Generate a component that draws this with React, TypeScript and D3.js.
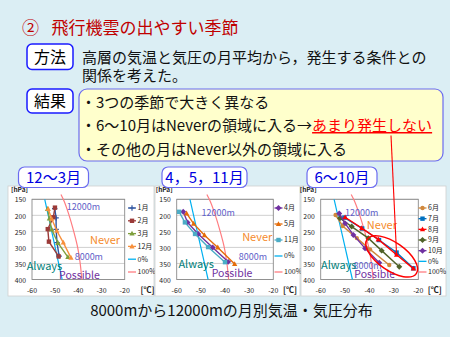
import React from "react";
import * as d3 from "d3";

const FONT = "'Noto Sans CJK JP', 'Noto Sans', sans-serif";

// ---- data ----
const pressureTicks = [150, 200, 250, 300, 350, 400];
const temperatureTicks = [-60, -50, -40, -30, -20];

// [temperature °C, pressure hPa]
type Pt = [number, number];
const jan: Pt[] = [[-50.2, 179], [-49.6, 208], [-49.6, 244], [-49.2, 285], [-48.3, 327]];
const feb: Pt[] = [[-50.1, 176], [-50.8, 206], [-53.2, 243], [-52.7, 282], [-48.5, 328]];
const mar: Pt[] = [[-53.3, 180], [-52.5, 210], [-51.5, 244], [-48.8, 286], [-44.5, 330]];
const dec: Pt[] = [[-53.0, 180], [-51.5, 211], [-49.3, 248], [-46.5, 285], [-43.2, 332]];
const apr: Pt[] = [[-57.3, 189], [-55.5, 222], [-51.1, 258], [-45.1, 300], [-38.7, 345]];
const may: Pt[] = [[-55.9, 194], [-53.0, 226], [-48.5, 262], [-43.0, 300], [-36.0, 352]];
const nov: Pt[] = [[-59.0, 189], [-56.6, 222], [-52.4, 258], [-47.0, 299], [-40.0, 346]];
const jun: Pt[] = [[-53.9, 199], [-51.0, 233], [-45.2, 271], [-39.8, 306], [-31.9, 355]];
const jul: Pt[] = [[-50.3, 207], [-43.0, 241], [-36.1, 277], [-28.9, 316], [-22.0, 365]];
const aug: Pt[] = [[-50.0, 206], [-43.2, 240], [-36.4, 275], [-28.9, 323], [-22.0, 366]];
const sep: Pt[] = [[-52.1, 209], [-47.3, 235], [-40.5, 271], [-35.0, 310], [-27.8, 360]];
const oct: Pt[] = [[-52.4, 194], [-50.0, 225], [-46.6, 261], [-41.8, 303], [-36.0, 348]];
const zeroPct: Pt[] = [[-54.5, 150], [-53, 200], [-51.5, 250], [-50, 300], [-48.5, 350], [-47, 400]];
const hundredPct: Pt[] = [[-47.5, 135], [-46.5, 150], [-44, 200], [-42, 250], [-40.3, 300], [-39.2, 350], [-38.5, 400]];

const chartTitles = ["12〜3月", "4，5，11月", "6〜10月"];

// ---- styles / layout ----
type Series = { name: string; data: Pt[]; color: string; marker: string | null };
type Label = { text: string; t: number; p: number; color: string; size: number };

const C_ZERO = "#00b0f0";
const C_HUND = "#ff7c80";
const C_ALT = "#6060c8";
const C_NEVER = "#f58a2a";
const C_ALWAYS = "#00807a";
const C_POSS = "#7030a0";

const refSeries = (): Series[] => [
  { name: "0%", data: zeroPct, color: C_ZERO, marker: null },
  { name: "100%", data: hundredPct, color: C_HUND, marker: null },
];

const charts = [
  {
    title: chartTitles[0],
    titleBox: { x: 18.5, w: 70 },
    panel: { x: 8, w: 146 },
    left: 32, right: 124.7,
    legendX: 128, celsiusX: 140.5,
    series: [
      { name: "1月", data: jan, color: "#2f55a0", marker: "plus" },
      { name: "2月", data: feb, color: "#9b3a38", marker: "square" },
      { name: "3月", data: mar, color: "#7f9f3c", marker: "triangle" },
      { name: "12月", data: dec, color: "#f7903c", marker: "triangle" },
    ] as Series[],
    labels: [
      { text: "12000m", t: -45, p: 173, color: C_ALT, size: 9 },
      { text: "Never", t: -35, p: 277, color: C_NEVER, size: 11 },
      { text: "8000m", t: -41.6, p: 328, color: C_ALT, size: 9 },
      { text: "Always", t: -62.3, p: 359, color: C_ALWAYS, size: 11 },
      { text: "Possible", t: -48.3, p: 386, color: C_POSS, size: 10.5 },
    ] as Label[],
  },
  {
    title: chartTitles[1],
    titleBox: { x: 162, w: 85 },
    panel: { x: 155, w: 145 },
    left: 176.7, right: 273.3,
    legendX: 274.5, celsiusX: 283,
    series: [
      { name: "4月", data: apr, color: "#7030a0", marker: "diamond" },
      { name: "5月", data: may, color: "#e46c0a", marker: "triangle" },
      { name: "11月", data: nov, color: "#4bacc6", marker: "square" },
    ] as Series[],
    labels: [
      { text: "12000m", t: -49.7, p: 193.6, color: C_ALT, size: 9 },
      { text: "Never", t: -32.9, p: 268, color: C_NEVER, size: 11 },
      { text: "8000m", t: -34.3, p: 328.6, color: C_ALT, size: 9 },
      { text: "Always", t: -59.3, p: 352, color: C_ALWAYS, size: 11 },
      { text: "Possible", t: -45.5, p: 381, color: C_POSS, size: 10.5 },
    ] as Label[],
  },
  {
    title: chartTitles[2],
    titleBox: { x: 307, w: 70 },
    panel: { x: 301, w: 145 },
    left: 320.7, right: 418.3,
    legendX: 418.5, celsiusX: 427.7,
    series: [
      { name: "6月", data: jun, color: "#d0883c", marker: "circle" },
      { name: "7月", data: jul, color: "#0070c0", marker: "square" },
      { name: "8月", data: aug, color: "#ff0000", marker: "triangle" },
      { name: "9月", data: sep, color: "#4f6228", marker: "diamond" },
      { name: "10月", data: oct, color: "#7030a0", marker: "diamond" },
    ] as Series[],
    labels: [
      { text: "12000m", t: -50, p: 193.6, color: C_ALT, size: 9 },
      { text: "Never", t: -41.1, p: 232, color: C_NEVER, size: 11 },
      { text: "8000m", t: -46.6, p: 357.7, color: C_ALT, size: 9 },
      { text: "Always", t: -59.9, p: 354, color: C_ALWAYS, size: 11 },
      { text: "Possible", t: -46.2, p: 385, color: C_POSS, size: 10.5 },
    ] as Label[],
  },
];

const PLOT_TOP = 199.3;
const PLOT_BOTTOM = 279.5;
const PANEL_TOP = 186;
const PANEL_BOTTOM = 296;

function Marker({ type, x, y, color }: { type: string; x: number; y: number; color: string }) {
  const s = 2.2;
  switch (type) {
    case "plus":
      return <path d={`M${x - s - 0.5},${y}H${x + s + 0.5}M${x},${y - s - 0.5}V${y + s + 0.5}`} stroke={color} strokeWidth={1.2} />;
    case "square":
      return <rect x={x - s} y={y - s} width={2 * s} height={2 * s} fill={color} />;
    case "triangle":
      return <path d={`M${x},${y - s * 1.3}L${x + s * 1.2},${y + s * 0.9}L${x - s * 1.2},${y + s * 0.9}Z`} fill={color} />;
    case "diamond":
      return <path d={`M${x},${y - s * 1.35}L${x + s * 1.35},${y}L${x},${y + s * 1.35}L${x - s * 1.35},${y}Z`} fill={color} />;
    case "circle":
      return <circle cx={x} cy={y} r={s} fill={color} />;
    default:
      return null;
  }
}

function Chart({ cfg, idx }: { cfg: (typeof charts)[number]; idx: number }) {
  const x = d3.scaleLinear().domain([-60, -20]).range([cfg.left, cfg.right]);
  const y = d3.scaleLinear().domain([150, 400]).range([PLOT_TOP, PLOT_BOTTOM]);
  const line = d3
    .line<Pt>()
    .x((d) => x(d[0]))
    .y((d) => y(d[1]))
    .curve(d3.curveLinear);
  const refCurve = d3
    .line<Pt>()
    .x((d) => x(d[0]))
    .y((d) => y(d[1]))
    .curve(d3.curveMonotoneY);
  const allLegend = [...cfg.series, ...refSeries()];
  const legY = d3.scalePoint<string>().domain(allLegend.map((s) => s.name)).range([208, 272]);
  return (
    <g>
      <rect x={cfg.panel.x} y={PANEL_TOP} width={cfg.panel.w} height={PANEL_BOTTOM - PANEL_TOP} fill="#ffffff" stroke="#d0d0d0" strokeWidth={0.8} />
      {/* gridlines */}
      {pressureTicks.map((p) => (
        <line key={p} x1={cfg.left} x2={cfg.right} y1={y(p)} y2={y(p)} stroke="#c4c4c4" strokeWidth={0.8} />
      ))}
      <rect x={cfg.left} y={PLOT_TOP} width={cfg.right - cfg.left} height={PLOT_BOTTOM - PLOT_TOP} fill="none" stroke="#8a8a8a" strokeWidth={0.9} />
      {/* axis labels */}
      {pressureTicks.map((p) => (
        <text key={p} x={cfg.left - 6} y={y(p) + 0.8} dy="0.35em" textAnchor="end" fontSize={6.8} fill="#222">{p}</text>
      ))}
      {temperatureTicks.map((t) => (
        <text key={t} x={x(t)} y={292.5} textAnchor="middle" fontSize={7} fill="#222">{t}</text>
      ))}
      <text x={cfg.left - 21} y={192.3} fontSize={6.5} fontWeight="bold" fill="#222">[hPa]</text>
      <text x={cfg.celsiusX} y={293} fontSize={8} fontWeight="bold" fill="#222">[℃]</text>
      {/* reference curves */}
      <path d={refCurve(zeroPct) || ""} fill="none" stroke={C_ZERO} strokeWidth={1.2} />
      <path d={refCurve(hundredPct) || ""} fill="none" stroke={C_HUND} strokeWidth={1.2} />
      {/* labels */}
      {cfg.labels.map((l) => (
        <text key={l.text} x={x(l.t)} y={y(l.p)} dy="0.35em" fontSize={l.size} fill={l.color}>{l.text}</text>
      ))}
      {/* series */}
      {cfg.series.map((s) => (
        <g key={s.name}>
          <path d={line(s.data) || ""} fill="none" stroke={s.color} strokeWidth={1.4} />
          {s.data.map((d, i) => (
            <Marker key={i} type={s.marker || ""} x={x(d[0])} y={y(d[1])} color={s.color} />
          ))}
        </g>
      ))}
      {/* legend */}
      {allLegend.map((s) => {
        const ly = legY(s.name) as number;
        return (
          <g key={s.name}>
            <line x1={cfg.legendX} x2={cfg.legendX + 8} y1={ly} y2={ly} stroke={s.color} strokeWidth={1.3} />
            {s.marker && <Marker type={s.marker} x={cfg.legendX + 4} y={ly} color={s.color} />}
            <text x={cfg.legendX + 9.5} y={ly} dy="0.35em" fontSize={7} fill="#222">{s.name}</text>
          </g>
        );
      })}
      {/* panel title box */}
      <rect x={cfg.titleBox.x} y={167} width={cfg.titleBox.w} height={20.5} rx={6} fill="#ffffff" stroke="#6b6bf0" strokeWidth={1.2} />
      <text x={cfg.titleBox.x + cfg.titleBox.w / 2} y={183.3} textAnchor="middle" fontSize={15} fill="#0000e0">{cfg.title}</text>
      {idx === 2 && (
        <g>
          <ellipse
            cx={x(-30.9)} cy={y(328)} rx={30} ry={14}
            transform={`rotate(35 ${x(-30.9)} ${y(328)})`}
            fill="none" stroke="#ff0000" strokeWidth={1.5}
          />
        </g>
      )}
    </g>
  );
}

export default function App() {
  const c3 = charts[2];
  const x3 = d3.scaleLinear().domain([-60, -20]).range([c3.left, c3.right]);
  const y3 = d3.scaleLinear().domain([150, 400]).range([PLOT_TOP, PLOT_BOTTOM]);
  const target = aug[3];
  return (
    <svg width={450} height={337} viewBox="0 0 450 337" style={{ display: "block", position: "absolute", left: 0, top: 0 }} fontFamily={FONT}>
      <rect x={0} y={0} width={450} height={337} fill="#dbeef4" />
      {/* title */}
      <text x={22} y={34} fontSize={17} fill="#c00000">②</text>
      <text x={51.5} y={34} fontSize={17} fill="#c00000">飛行機雲の出やすい季節</text>
      {/* 方法 */}
      <rect x={27} y={44} width={46} height={25.5} rx={5} fill="#ffffff" stroke="#1a1aff" strokeWidth={1.5} />
      <text x={50} y={62.5} textAnchor="middle" fontSize={16} fill="#000">方法</text>
      <text x={82} y={63} fontSize={15} fill="#111">高層の気温と気圧の月平均から，発生する条件との</text>
      <text x={82} y={81} fontSize={15} fill="#111">関係を考えた。</text>
      {/* 結果 */}
      <rect x={27} y={89} width={46} height={24} rx={5} fill="#ffffff" stroke="#1a1aff" strokeWidth={1.5} />
      <text x={50} y={107} textAnchor="middle" fontSize={16} fill="#000">結果</text>
      <rect x={79} y={89} width={364} height={72} rx={8} fill="#ffffcc" stroke="#6b6bf0" strokeWidth={1.2} />
      <text x={81} y={107.5} fontSize={15} fill="#111">・3つの季節で大きく異なる</text>
      <text x={81} y={131} fontSize={15} fill="#111">
        ・6〜10月はNeverの領域に入る→
        <tspan fill="#ff0000" style={{ textDecoration: "underline" }}>あまり発生しない</tspan>
      </text>
      <text x={81} y={155} fontSize={15} fill="#111">・その他の月はNever以外の領域に入る</text>
      {charts.map((c, i) => (
        <Chart key={i} cfg={c} idx={i} />
      ))}
      {/* pointer line */}
      <line x1={391} y1={135.5} x2={x3(target[0])} y2={y3(target[1])} stroke="#ff0000" strokeWidth={1.1} />
      {/* caption */}
      <text x={231.5} y={316} textAnchor="middle" fontSize={15} fill="#111">8000mから12000mの月別気温・気圧分布</text>
    </svg>
  );
}
